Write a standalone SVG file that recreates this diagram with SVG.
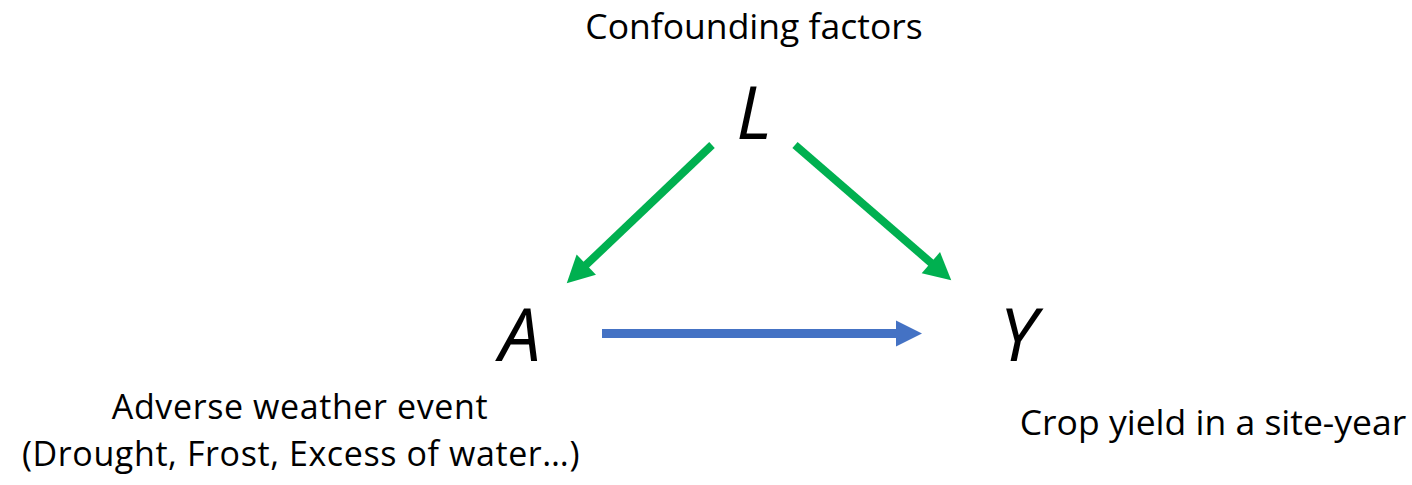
<svg xmlns="http://www.w3.org/2000/svg" width="1412" height="485" viewBox="0 0 1412 485">
<style>
.lbl{font-family:"Open Sans","Noto Sans","Liberation Sans",sans-serif;font-size:35.5px;fill:#000;text-anchor:middle}
.lbl2{font-family:"Open Sans","Noto Sans","Liberation Sans",sans-serif;font-size:34px;letter-spacing:0.6px;fill:#000;text-anchor:middle}
.var{font-family:"Open Sans","Noto Sans","Liberation Sans",sans-serif;font-size:74px;font-style:italic;fill:#000;text-anchor:middle}
.green{stroke:#00B050;stroke-width:8;fill:none}
.blue{stroke:#4472C4;stroke-width:9;fill:none}
</style>
<defs>
<marker id="hg" markerUnits="userSpaceOnUse" markerWidth="30" markerHeight="30" viewBox="0 -15 28 30" refX="8" refY="0" orient="auto">
<path d="M0,-14 L27,0 L0,14 z" fill="#00B050"/>
</marker>
<marker id="hb" markerUnits="userSpaceOnUse" markerWidth="30" markerHeight="30" viewBox="0 -15 28 30" refX="6" refY="0" orient="auto">
<path d="M0,-13 L26,0 L0,13 z" fill="#4472C4"/>
</marker>
</defs>
<rect width="1412" height="485" fill="#fff"/>
<g id="connectors">
<line class="green" x1="712" y1="145" x2="580.5" y2="270.2" marker-end="url(#hg)"/>
<line class="green" x1="795" y1="145" x2="936.9" y2="267.9" marker-end="url(#hg)"/>
<line class="blue" x1="602" y1="333.5" x2="902" y2="333.5" marker-end="url(#hb)"/>
</g>
<g id="node-L">
<text class="lbl" x="754" y="39">Confounding factors</text>
<text class="var" x="754" y="139">L</text>
</g>
<g id="node-A">
<text class="var" x="520" y="361">A</text>
<text class="lbl2" x="300" y="419">Adverse weather event</text>
<text class="lbl2" x="301" y="466">(Drought, Frost, Excess of water…)</text>
</g>
<g id="node-Y">
<text class="var" x="1018" y="361">Y</text>
<text class="lbl" x="1213" y="435">Crop yield in a site-year</text>
</g>
</svg>
